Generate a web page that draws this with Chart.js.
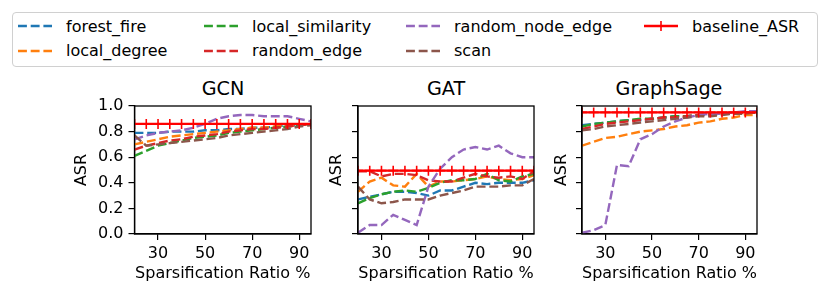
<!DOCTYPE html>
<html>
<head>
<meta charset="utf-8">
<script src="https://cdn.jsdelivr.net/npm/chart.js@4.4.1/dist/chart.umd.min.js"></script>
<style>
  body { margin: 0; background: #fff; font-family: "DejaVu Sans", sans-serif; }
  #wrap { position: relative; width: 831px; height: 297px; overflow: hidden; }
  #wrap canvas { position: absolute; left: 0; top: 0; }
  .title { position: absolute; top: 78px; font-size: 19.2px; line-height: 22px; transform: translateX(-50%); white-space: nowrap; }
  #legend { position: absolute; left: 12px; top: 12px; width: 806px; height: 55px; box-sizing: border-box;
            border: 1px solid #d0d0d0; border-radius: 4px; }
  .item { position: absolute; font-size: 16px; height: 20px; display: flex; align-items: center; white-space: nowrap; }
  .item svg { margin-right: 14px; }
</style>
</head>
<body>
<div id="wrap">
  <div id="legend"></div>
  <div class="title" style="left:223px">GCN</div>
  <div class="title" style="left:446px">GAT</div>
  <div class="title" style="left:669px">GraphSage</div>
  <canvas id="c0" width="831" height="297"></canvas>
  <canvas id="c1" width="831" height="297"></canvas>
  <canvas id="c2" width="831" height="297"></canvas>
</div>
<script>
// sparsification ratios (x) and axis ticks
var ratios = [20, 25, 30, 35, 40, 45, 50, 55, 60, 65, 70, 75, 80, 85, 90, 95];
var xTicks = [30, 50, 70, 90];
var yTicks = [0, 0.2, 0.4, 0.6, 0.8, 1.0];
var models = ['GCN', 'GAT', 'GraphSage'];
var methods = ['forest_fire', 'local_degree', 'local_similarity', 'random_edge', 'random_node_edge', 'scan'];
var colors = ['#1f77b4', '#ff7f0e', '#2ca02c', '#d62728', '#9467bd', '#8c564b'];

// GCN
var gcn_forest_fire      = [0.79,0.79,0.79,0.80,0.80,0.80,0.81,0.81,0.82,0.82,0.83,0.83,0.84,0.85,0.85,0.86];
var gcn_local_degree     = [0.70,0.72,0.74,0.76,0.77,0.78,0.79,0.80,0.81,0.82,0.83,0.83,0.84,0.85,0.85,0.86];
var gcn_local_similarity = [0.61,0.65,0.69,0.71,0.73,0.75,0.76,0.77,0.79,0.80,0.81,0.82,0.83,0.84,0.85,0.86];
var gcn_random_edge      = [0.66,0.69,0.71,0.73,0.74,0.76,0.77,0.78,0.80,0.81,0.82,0.82,0.83,0.84,0.85,0.86];
var gcn_random_node_edge = [0.74,0.77,0.79,0.80,0.81,0.83,0.86,0.90,0.92,0.93,0.93,0.92,0.92,0.92,0.90,0.88];
var gcn_scan             = [0.77,0.69,0.70,0.71,0.72,0.73,0.74,0.75,0.77,0.78,0.79,0.80,0.81,0.82,0.84,0.85];
var gcn_baseline = 0.86;

// GAT
var gat_forest_fire      = [0.27,0.29,0.31,0.33,0.33,0.32,0.30,0.34,0.34,0.37,0.40,0.39,0.40,0.40,0.40,0.42];
var gat_local_degree     = [0.33,0.41,0.44,0.38,0.37,0.47,0.37,0.41,0.41,0.42,0.43,0.45,0.43,0.42,0.43,0.46];
var gat_local_similarity = [0.24,0.28,0.31,0.33,0.34,0.33,0.36,0.40,0.42,0.42,0.43,0.47,0.42,0.41,0.45,0.47];
var gat_random_edge      = [0.49,0.49,0.45,0.47,0.47,0.46,0.42,0.41,0.41,0.44,0.47,0.45,0.44,0.45,0.43,0.49];
var gat_random_node_edge = [0.01,0.07,0.07,0.15,0.11,0.07,0.37,0.51,0.60,0.66,0.68,0.66,0.69,0.63,0.60,0.60];
var gat_scan             = [0.37,0.27,0.24,0.25,0.27,0.27,0.27,0.30,0.32,0.34,0.37,0.37,0.37,0.38,0.38,0.43];
var gat_baseline = 0.495;

// GraphSage
var sage_forest_fire      = [0.85,0.86,0.87,0.88,0.89,0.89,0.90,0.91,0.92,0.92,0.93,0.93,0.94,0.94,0.95,0.95];
var sage_local_degree     = [0.69,0.72,0.75,0.76,0.78,0.80,0.81,0.82,0.84,0.85,0.87,0.88,0.90,0.91,0.93,0.93];
var sage_local_similarity = [0.84,0.86,0.87,0.88,0.89,0.90,0.90,0.91,0.92,0.92,0.93,0.94,0.94,0.95,0.95,0.95];
var sage_random_edge      = [0.82,0.84,0.86,0.87,0.88,0.89,0.90,0.91,0.91,0.92,0.93,0.93,0.94,0.94,0.95,0.95];
var sage_random_node_edge = [0.01,0.03,0.07,0.54,0.53,0.74,0.78,0.84,0.88,0.91,0.93,0.94,0.94,0.95,0.96,0.96];
var sage_scan             = [0.81,0.82,0.84,0.85,0.86,0.87,0.88,0.89,0.90,0.91,0.92,0.92,0.93,0.94,0.94,0.95];
var sage_baseline = 0.95;

var seriesByModel = [
  [gcn_forest_fire, gcn_local_degree, gcn_local_similarity, gcn_random_edge, gcn_random_node_edge, gcn_scan],
  [gat_forest_fire, gat_local_degree, gat_local_similarity, gat_random_edge, gat_random_node_edge, gat_scan],
  [sage_forest_fire, sage_local_degree, sage_local_similarity, sage_random_edge, sage_random_node_edge, sage_scan]
];
var baselines = [gcn_baseline, gat_baseline, sage_baseline];

// plot boxes (left, right) in page pixels
var boxes = [[134.5, 311], [358, 534], [582, 757]];
var yAxisWidth = [66, 35, 34];
var DASH = [8.9, 3.8];
var FONT = { family: 'DejaVu Sans', size: 16 };

// frame around each plot, like matplotlib spines
var framePlugin = {
  id: 'frame',
  afterDraw: function (chart) {
    var a = chart.chartArea, ctx = chart.ctx;
    ctx.save();
    ctx.strokeStyle = '#000';
    ctx.lineWidth = 1.3;
    ctx.strokeRect(a.left, a.top, a.right - a.left, a.bottom - a.top);
    ctx.restore();
  }
};

models.forEach(function (model, m) {
  var datasets = methods.map(function (name, i) {
    return {
      label: name,
      data: ratios.map(function (r, k) { return { x: r, y: seriesByModel[m][i][k] }; }),
      borderColor: colors[i],
      borderWidth: 2.4,
      borderDash: DASH,
      pointRadius: 0,
      tension: 0,
      order: 10 - i
    };
  });
  datasets.push({
    label: 'baseline_ASR',
    data: ratios.map(function (r) { return { x: r, y: baselines[m] }; }),
    borderColor: '#ff0000',
    borderWidth: 2.4,
    pointStyle: 'cross',
    pointRadius: 5,
    pointBorderWidth: 1.6,
    pointBorderColor: '#ff0000',
    order: 0
  });

  new Chart(document.getElementById('c' + m), {
    type: 'line',
    data: { datasets: datasets },
    plugins: [framePlugin],
    options: {
      responsive: false,
      animation: false,
      layout: { padding: { left: boxes[m][0] - yAxisWidth[m], right: 831 - boxes[m][1], top: 106, bottom: 10 } },
      plugins: { legend: { display: false }, tooltip: { enabled: false } },
      scales: {
        x: {
          type: 'linear', min: 20, max: 95,
          afterBuildTicks: function (s) { s.ticks = xTicks.map(function (v) { return { value: v }; }); },
          afterFit: function (s) { s.height = 53; },
          ticks: { color: '#000', font: FONT, maxRotation: 0, padding: 4 },
          grid: { drawOnChartArea: false, drawTicks: true, tickLength: 6, color: '#000', lineWidth: 1.2 },
          border: { color: '#000', width: 1.3 },
          title: { display: true, text: 'Sparsification Ratio %', color: '#000', font: FONT }
        },
        y: {
          min: 0, max: 1,
          afterBuildTicks: function (s) { s.ticks = yTicks.map(function (v) { return { value: v }; }); },
          afterFit: function (s) { s.width = yAxisWidth[m]; },
          ticks: {
            display: m === 0, color: '#000', padding: 5, font: FONT,
            callback: function (v) { return v.toFixed(1); }
          },
          grid: { drawOnChartArea: false, drawTicks: true, tickLength: 6, color: '#000', lineWidth: 1.2 },
          border: { color: '#000', width: 1.3 },
          title: { display: true, text: 'ASR', color: '#000', font: FONT }
        }
      }
    }
  });
});

// legend, matplotlib-style with 4 columns filled column by column
var legendItems = methods.concat(['baseline_ASR']);
var legendColors = colors.concat(['#ff0000']);
var colX = [18, 204, 406, 644];
var rowY = [26, 50.5];
var legend = document.getElementById('legend');
legendItems.forEach(function (name, i) {
  var col = Math.floor(i / 2), row = i % 2;
  var div = document.createElement('div');
  div.className = 'item';
  div.style.left = (colX[col] - 13) + 'px';
  div.style.top = (rowY[row] - 13 - 10) + 'px';
  var line = name === 'baseline_ASR'
    ? '<line x1="0" y1="8" x2="34" y2="8" stroke="#ff0000" stroke-width="2.4"/>' +
      '<line x1="17" y1="3" x2="17" y2="13" stroke="#ff0000" stroke-width="1.6"/>'
    : '<line x1="0" y1="8" x2="34" y2="8" stroke="' + legendColors[i] + '" stroke-width="2.4" stroke-dasharray="8.9 3.8"/>';
  div.innerHTML = '<svg width="34" height="16">' + line + '</svg><span>' + name + '</span>';
  legend.appendChild(div);
});
</script>
</body>
</html>
